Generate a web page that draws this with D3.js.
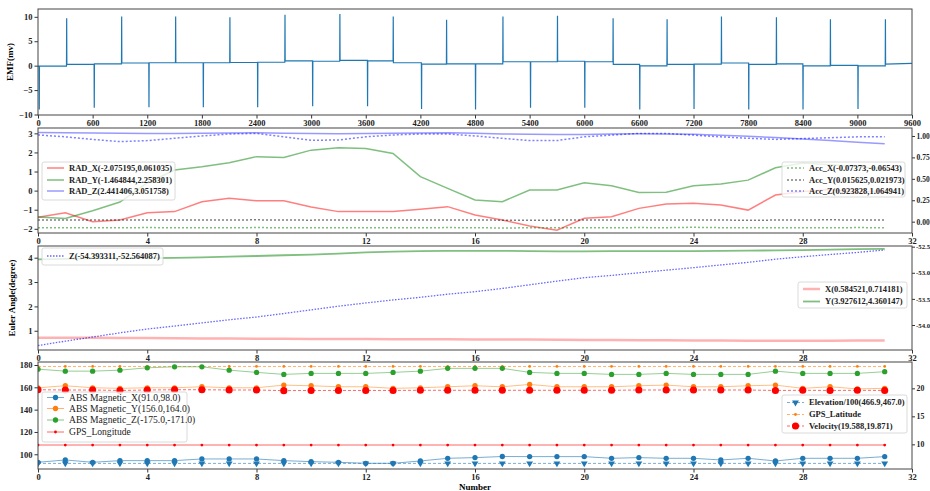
<!DOCTYPE html>
<html><head><meta charset="utf-8">
<script src="https://cdn.jsdelivr.net/npm/d3@7"></script>
<style>
body{margin:0;background:#fff}
svg text{font-family:"Liberation Serif","Times New Roman",serif}
</style></head><body>
<svg id="chart" width="930" height="491"></svg>
<script>
// ---- panel 1: EMF trace (sample, peak, level after spike) ----
const emfStart = [0, -0.1];
const emfSpikes = [
  [14,-8.98,-0.1],[315,9.73,0.25],[618,-8.64,0.35],[919,10.07,0.55],[1219,-8.5,0.6],
  [1512,10.07,0.6],[1816,-8.5,0.6],[2108,9.93,0.65],[2413,-8.5,0.7],[2713,10.4,1.0],
  [3017,-8.3,0.9],[3316,10.6,1.1],[3620,-8.3,1.0],[3902,10.07,0.6],[4213,-8.85,0.3],
  [4488,9.4,0.35],[4806,-8.98,0.35],[5107,10.07,0.8],[5410,-8.64,0.8],[5706,10.2,0.9],
  [6006,-8.64,0.8],[6317,9.73,0.25],[6610,-8.98,-0.05],[6910,9.5,0.25],[7206,-8.85,0.3],
  [7507,10.07,0.55],[7807,-8.98,0.25],[8111,9.93,0.35],[8403,-8.98,-0.05],[8704,9.5,0.05],
  [9007,-8.85,-0.05],[9308,9.5,0.3]
];
const emfEnd = [9600, 0.45];
const emfXTicks = [0,600,1200,1800,2400,3000,3600,4200,4800,5400,6000,6600,7200,7800,8400,9000,9600];
const emfYTicks = [-10,-5,0,5,10];

// ---- shared x for panels 2-4 ----
const numTicks = [0,4,8,12,16,20,24,28,32];

// ---- panel 2: rad (left) and acc (right) ----
const radX = [-1.40,-1.16,-1.63,-1.54,-1.16,-1.10,-0.58,-0.40,-0.53,-0.53,-0.86,-1.10,-1.10,-1.10,-0.98,-0.84,-1.28,-1.54,-1.85,-2.07,-1.45,-1.37,-0.93,-0.70,-0.66,-0.75,-1.02,-0.23,-0.05,0.06,-0.10,0.0];
const radY = [-1.38,-1.46,-1.05,-0.60,0.40,1.08,1.25,1.46,1.78,1.74,2.12,2.25,2.21,1.95,0.73,0.12,-0.49,-0.58,0.03,0.03,0.41,0.25,-0.10,-0.08,0.25,0.35,0.55,1.20,1.45,1.35,1.25,1.15];
const radZ = [3.04,3.03,3.02,3.0,2.99,2.99,3.0,3.02,3.03,3.01,2.99,2.98,2.99,3.0,3.02,3.03,3.0,2.97,2.95,2.94,2.94,2.96,2.98,2.97,2.95,2.9,2.85,2.78,2.7,2.62,2.53,2.45];
const accX = [-0.0700,-0.0695,-0.0710,-0.0705,-0.0690,-0.0700,-0.0715,-0.0705,-0.0690,-0.0700,-0.0710,-0.0695,-0.0700,-0.0720,-0.0705,-0.0690,-0.0700,-0.0737,-0.0710,-0.0700,-0.0695,-0.0705,-0.0690,-0.0700,-0.0654,-0.0700,-0.0710,-0.0695,-0.0700,-0.0705,-0.0690,-0.0700];
const accY = [0.0195,0.0205,0.0190,0.0200,0.0210,0.0185,0.0195,0.0200,0.0215,0.0190,0.0180,0.0200,0.0195,0.0205,0.0190,0.0210,0.0200,0.0175,0.0165,0.0185,0.0200,0.0190,0.0205,0.0195,0.0210,0.0200,0.0156,0.0190,0.0200,0.0219,0.0195,0.0200];
const accZ = [1.012,0.99,0.96,0.934,0.946,0.973,1.0,1.023,1.03,0.99,0.95,0.953,0.99,1.012,1.023,1.023,1.0,0.973,0.946,0.946,0.99,1.01,1.03,1.03,1.01,0.99,0.973,0.96,0.97,0.98,0.99,0.99];
const radTicks = [-2,-1,0,1,2,3];
const accTicks = [0,0.25,0.5,0.75,1.0];

// ---- panel 3: euler angles ----
const eulerX = [0.714,0.712,0.708,0.703,0.698,0.692,0.686,0.680,0.675,0.670,0.666,0.662,0.658,0.655,0.652,0.648,0.644,0.640,0.636,0.630,0.624,0.618,0.612,0.606,0.600,0.596,0.592,0.588,0.585,0.590,0.596,0.600];
const eulerY = [3.93,3.95,3.97,3.98,3.98,3.99,4.01,4.04,4.07,4.10,4.13,4.17,4.22,4.25,4.27,4.28,4.28,4.28,4.27,4.26,4.26,4.27,4.27,4.27,4.27,4.28,4.29,4.30,4.31,4.33,4.35,4.36];
const eulerZ = [-54.393,-54.31,-54.23,-54.15,-54.077,-54.02,-53.96,-53.90,-53.847,-53.78,-53.71,-53.64,-53.578,-53.52,-53.47,-53.41,-53.362,-53.30,-53.23,-53.16,-53.094,-53.05,-53.00,-52.95,-52.902,-52.85,-52.80,-52.74,-52.692,-52.65,-52.61,-52.564];
const eulerTicks = [1,2,3,4];
const zTicks = [-54,-53.5,-53,-52.5];

// ---- panel 4: magnetic / gps ----
const magX = [92.8,94.9,92.8,94.3,94.3,94.3,95.8,95.8,95.8,94.3,93.4,92.8,91.9,91.9,94.0,96.4,97.0,98.0,97.9,97.9,97.9,96.4,97.0,96.4,96.4,94.9,96.4,94.0,96.4,96.4,96.4,97.9];
const magY = [159.6,161.4,159.6,159.1,159.6,159.6,160.5,159.6,159.6,162.0,161.4,160.5,160.5,159.1,159.6,160.5,161.4,160.5,162.6,160.5,160.5,160.5,161.4,162.0,160.5,160.5,161.4,162.0,159.1,160.5,158.6,159.1];
const magZ = [176.3,174.5,174.5,175.4,177.5,178.4,178.4,175.4,173.4,171.6,172.5,172.5,172.5,173.4,174.5,177.0,177.0,177.0,173.4,172.5,172.5,171.6,171.6,172.5,171.6,171.6,171.6,174.5,172.5,172.5,172.5,174.0];
const gpsLon = [108.3,108.3,108.3,108.3,108.3,108.3,108.3,108.3,108.3,108.3,108.3,108.3,108.3,108.3,108.3,108.3,108.3,108.3,108.3,108.3,108.3,108.3,108.3,108.3,108.3,108.3,108.3,108.3,108.3,108.3,108.3,108.3];
const elev = [6.6,6.6,6.6,6.6,6.6,6.6,6.6,6.6,6.6,6.6,6.6,6.6,6.6,6.6,6.6,6.6,6.6,6.6,6.6,6.6,6.6,6.6,6.6,6.6,6.6,6.6,6.6,6.6,6.6,6.6,6.6,6.6];
const gpsLat = [23.9,23.9,23.9,23.9,23.9,23.9,23.9,23.9,23.9,23.9,23.9,23.9,23.9,23.9,23.9,23.9,23.9,23.9,23.9,23.9,23.9,23.9,23.9,23.9,23.9,23.9,23.9,23.9,23.9,23.9,23.9,23.9];
const velocity = [19.75,19.70,19.70,19.62,19.70,19.75,19.75,19.70,19.70,19.59,19.62,19.62,19.62,19.62,19.65,19.65,19.65,19.65,19.65,19.65,19.65,19.65,19.70,19.70,19.70,19.70,19.70,19.62,19.65,19.62,19.65,19.62];
const magTicks = [100,120,140,160,180];
const rightTicks = [10,15,20];

// ---------------------------------------------------------------
const svg = d3.select("#chart");
const X0 = 38, X1 = 912;
const frames = [{t: 9, b: 115}, {t: 128, b: 233}, {t: 246, b: 350}, {t: 362, b: 469}];
const FS = 8.5;
const intFmt = d3.format("d");

function plotArea(i) {
  const f = frames[i];
  svg.append("clipPath").attr("id", "clip" + i).append("rect")
    .attr("x", X0).attr("y", f.t).attr("width", X1 - X0).attr("height", f.b - f.t);
  return svg.append("g").attr("clip-path", `url(#clip${i})`);
}

function drawAxis(axis, tx, ty, fs = FS) {
  const g = svg.append("g").attr("transform", `translate(${tx},${ty})`).call(axis);
  g.select(".domain").remove();
  g.selectAll("text").attr("font-size", fs).attr("font-weight", "bold").attr("fill", "#222");
  g.selectAll("line").attr("stroke", "#333");
  return g;
}

function border(i) {
  const f = frames[i];
  svg.append("rect").attr("x", X0).attr("y", f.t).attr("width", X1 - X0).attr("height", f.b - f.t)
    .attr("fill", "none").attr("stroke", "#444").attr("stroke-width", 1);
}

function path(g, data, x, y, stroke, opts = {}) {
  g.append("path").datum(data)
    .attr("d", d3.line().x((d, i) => x(i)).y(d => y(d)))
    .attr("fill", "none").attr("stroke", stroke)
    .attr("stroke-width", opts.w || 1.3)
    .attr("stroke-opacity", opts.op == null ? 1 : opts.op)
    .attr("stroke-dasharray", opts.dash || null);
}

function markers(g, data, x, y, color, shape, size, op = 1) {
  const sym = shape === "v" ? d3.symbolTriangle : d3.symbolCircle;
  g.selectAll(null).data(data).enter().append("path")
    .attr("d", d3.symbol().type(sym).size(size))
    .attr("transform", (d, i) => `translate(${x(i)},${y(d)})${shape === "v" ? " rotate(180)" : ""}`)
    .attr("fill", color).attr("fill-opacity", op);
}

function legend(x, y, w, h, items, rowY, fs = FS, fw = "bold") {
  const g = svg.append("g");
  g.append("rect").attr("x", x).attr("y", y).attr("width", w).attr("height", h).attr("rx", 2)
    .attr("fill", "#fff").attr("fill-opacity", 0.8).attr("stroke", "#d0d0d0").attr("stroke-width", 0.8);
  items.forEach((it, k) => {
    const yy = rowY[k];
    g.append("line").attr("x1", x + 5).attr("x2", x + 22).attr("y1", yy).attr("y2", yy)
      .attr("stroke", it.c).attr("stroke-opacity", it.op == null ? 1 : it.op)
      .attr("stroke-width", it.w || 1.3).attr("stroke-dasharray", it.dash || null);
    if (it.m) {
      const sym = it.m === "v" ? d3.symbolTriangle : d3.symbolCircle;
      g.append("path").attr("d", d3.symbol().type(sym).size(it.ms))
        .attr("transform", `translate(${x + 13.5},${yy})${it.m === "v" ? " rotate(180)" : ""}`)
        .attr("fill", it.c);
    }
    g.append("text").attr("x", x + 27).attr("y", yy).attr("dy", "0.35em")
      .attr("font-size", fs).attr("font-weight", fw).attr("fill", "#222").text(it.t);
  });
}

// ---- panel 1 ----
{
  const f = frames[0];
  const x = d3.scaleLinear().domain([0, 9600]).range([X0, X1]);
  const y = d3.scaleLinear().domain([-10.1, 11.6]).range([f.b, f.t]);
  const pts = [emfStart];
  let level = emfStart[1];
  emfSpikes.forEach(([s, peak, after]) => {
    pts.push([s - 2, level], [s, peak], [s + 2, after]);
    level = after;
  });
  pts.push(emfEnd);
  const g = plotArea(0);
  g.append("path").datum(pts)
    .attr("d", d3.line().x(d => x(d[0])).y(d => y(d[1])))
    .attr("fill", "none").attr("stroke", "#1f77b4").attr("stroke-width", 1.2);
  drawAxis(d3.axisLeft(y).tickValues(emfYTicks).tickFormat(intFmt).tickSize(3.5).tickPadding(2), X0, 0);
  drawAxis(d3.axisBottom(x).tickValues(emfXTicks).tickFormat(intFmt).tickSize(3.5).tickPadding(1), 0, f.b);
  border(0);
  svg.append("text").attr("transform", `translate(13,${(f.t + f.b) / 2}) rotate(-90)`)
    .attr("text-anchor", "middle").attr("font-size", 9).attr("font-weight", "bold").text("EMF(mv)");
}

const xn = d3.scaleLinear().domain([0, 32]).range([X0, X1]);

// ---- panel 2 ----
{
  const f = frames[1];
  const yl = d3.scaleLinear().domain([-2.22, 3.28]).range([f.b, f.t]);
  const yr = d3.scaleLinear().domain([-0.132, 1.093]).range([f.b, f.t]);
  const g = plotArea(1);
  path(g, radX, xn, yl, "red", {op: 0.5, w: 1.5});
  path(g, radY, xn, yl, "green", {op: 0.5, w: 1.5});
  path(g, radZ, xn, yl, "blue", {op: 0.4, w: 1.5});
  path(g, accX, xn, yr, "green", {op: 0.5, w: 1.5, dash: "2,2"});
  path(g, accY, xn, yr, "black", {op: 0.5, w: 1.5, dash: "2,2"});
  path(g, accZ, xn, yr, "blue", {op: 0.5, w: 1.5, dash: "2,2"});
  drawAxis(d3.axisLeft(yl).tickValues(radTicks).tickFormat(intFmt).tickSize(3.5).tickPadding(2), X0, 0);
  drawAxis(d3.axisRight(yr).tickValues(accTicks).tickFormat(d3.format(".2f")).tickSize(3).tickPadding(1.5), X1, 0, 7.5);
  drawAxis(d3.axisBottom(xn).tickValues(numTicks).tickFormat(intFmt).tickSize(3.5).tickPadding(1), 0, f.b);
  border(1);
  legend(42, 162, 133, 38, [
    {t: "RAD_X(-2.075195,0.061035)", c: "red", op: 0.5, w: 1.5},
    {t: "RAD_Y(-1.464844,2.258301)", c: "green", op: 0.5, w: 1.5},
    {t: "RAD_Z(2.441406,3.051758)", c: "blue", op: 0.4, w: 1.5}
  ], [168, 180, 191]);
  legend(782, 162, 123, 35, [
    {t: "Acc_X(-0.07373,-0.06543)", c: "green", op: 0.5, w: 1.5, dash: "2,2"},
    {t: "Acc_Y(0.015625,0.021973)", c: "black", op: 0.5, w: 1.5, dash: "2,2"},
    {t: "Acc_Z(0.923828,1.064941)", c: "blue", op: 0.5, w: 1.5, dash: "2,2"}
  ], [168, 180, 191]);
}

// ---- panel 3 ----
{
  const f = frames[2];
  const yl = d3.scaleLinear().domain([0.21, 4.48]).range([f.b, f.t]);
  const yr = d3.scaleLinear().domain([-54.479, -52.487]).range([f.b, f.t]);
  const g = plotArea(2);
  path(g, eulerX, xn, yl, "red", {op: 0.3, w: 2.5});
  path(g, eulerY, xn, yl, "green", {op: 0.5, w: 1.8});
  path(g, eulerZ, xn, yr, "blue", {op: 0.6, w: 1.3, dash: "1.5,1.5"});
  drawAxis(d3.axisLeft(yl).tickValues(eulerTicks).tickFormat(intFmt).tickSize(3.5).tickPadding(2), X0, 0);
  drawAxis(d3.axisRight(yr).tickValues(zTicks).tickFormat(d => d.toFixed(1)).tickSize(3).tickPadding(1), X1, 0, 6.8);
  drawAxis(d3.axisBottom(xn).tickValues(numTicks).tickFormat(intFmt).tickSize(3.5).tickPadding(1), 0, f.b);
  border(2);
  svg.append("text").attr("transform", `translate(15,${(f.t + f.b) / 2}) rotate(-90)`)
    .attr("text-anchor", "middle").attr("font-size", 9).attr("font-weight", "bold").text("Euler Angle(degree)");
  legend(42, 248, 121, 17, [
    {t: "Z(-54.393311,-52.564087)", c: "blue", op: 0.6, w: 1.3, dash: "1.5,1.5"}
  ], [256]);
  legend(798, 282, 109, 26, [
    {t: "X(0.584521,0.714181)", c: "red", op: 0.3, w: 2.5},
    {t: "Y(3.927612,4.360147)", c: "green", op: 0.5, w: 1.8}
  ], [289, 301.5]);
}

// ---- panel 4 ----
{
  const f = frames[3];
  const yl = d3.scaleLinear().domain([86.8, 182.7]).range([f.b, f.t]);
  const yr = d3.scaleLinear().domain([5.6, 24.7]).range([f.b, f.t]);
  const g = plotArea(3);
  const c = {b: "#1f77b4", o: "#ff7f0e", g: "#2ca02c", r: "red"};
  path(g, magX, xn, yl, c.b, {op: 0.6, w: 1});
  markers(g, magX, xn, yl, c.b, "o", 22);
  path(g, elev, xn, yr, c.b, {op: 0.6, w: 1, dash: "3,2"});
  markers(g, elev, xn, yr, c.b, "v", 20);
  path(g, magY, xn, yl, c.o, {op: 0.5, w: 1});
  markers(g, magY, xn, yl, c.o, "o", 22);
  path(g, gpsLat, xn, yr, c.o, {op: 0.6, w: 1, dash: "3,2"});
  markers(g, gpsLat, xn, yr, c.o, "o", 6);
  path(g, magZ, xn, yl, c.g, {op: 0.5, w: 1});
  markers(g, magZ, xn, yl, c.g, "o", 22);
  path(g, gpsLon, xn, yl, c.r, {op: 0.6, w: 1});
  markers(g, gpsLon, xn, yl, c.r, "o", 6);
  path(g, velocity, xn, yr, c.r, {op: 0.6, w: 1, dash: "3,2"});
  markers(g, velocity, xn, yr, c.r, "o", 40);
  drawAxis(d3.axisLeft(yl).tickValues(magTicks).tickFormat(intFmt).tickSize(3.5).tickPadding(2), X0, 0);
  drawAxis(d3.axisRight(yr).tickValues(rightTicks).tickFormat(intFmt).tickSize(3).tickPadding(1.5), X1, 0, 7.8);
  drawAxis(d3.axisBottom(xn).tickValues(numTicks).tickFormat(intFmt).tickSize(3.5).tickPadding(1), 0, f.b);
  border(3);
  svg.append("text").attr("x", (X0 + X1) / 2).attr("y", 490).attr("text-anchor", "middle")
    .attr("font-size", 9).attr("font-weight", "bold").text("Number");
  legend(42, 392, 145, 50, [
    {t: "ABS Magnetic_X(91.0,98.0)", c: c.b, op: 0.6, w: 1, m: "o", ms: 22},
    {t: "ABS Magnetic_Y(156.0,164.0)", c: c.o, op: 0.6, w: 1, m: "o", ms: 22},
    {t: "ABS Magnetic_Z(-175.0,-171.0)", c: c.g, op: 0.6, w: 1, m: "o", ms: 22},
    {t: "GPS_Longitude", c: c.r, op: 0.6, w: 1, m: "o", ms: 6}
  ], [397.5, 408.5, 420, 432], 9.6, "normal");
  legend(782, 395, 125, 38, [
    {t: "Elevation/100(466.9,467.0)", c: c.b, op: 0.6, w: 1, dash: "3,2", m: "v", ms: 20},
    {t: "GPS_Latitude", c: c.o, op: 0.6, w: 1, dash: "3,2", m: "o", ms: 6},
    {t: "Velocity(19.588,19.871)", c: c.r, op: 0.6, w: 1, dash: "3,2", m: "o", ms: 40}
  ], [402.5, 414.5, 426]);
}
</script>
</body></html>
